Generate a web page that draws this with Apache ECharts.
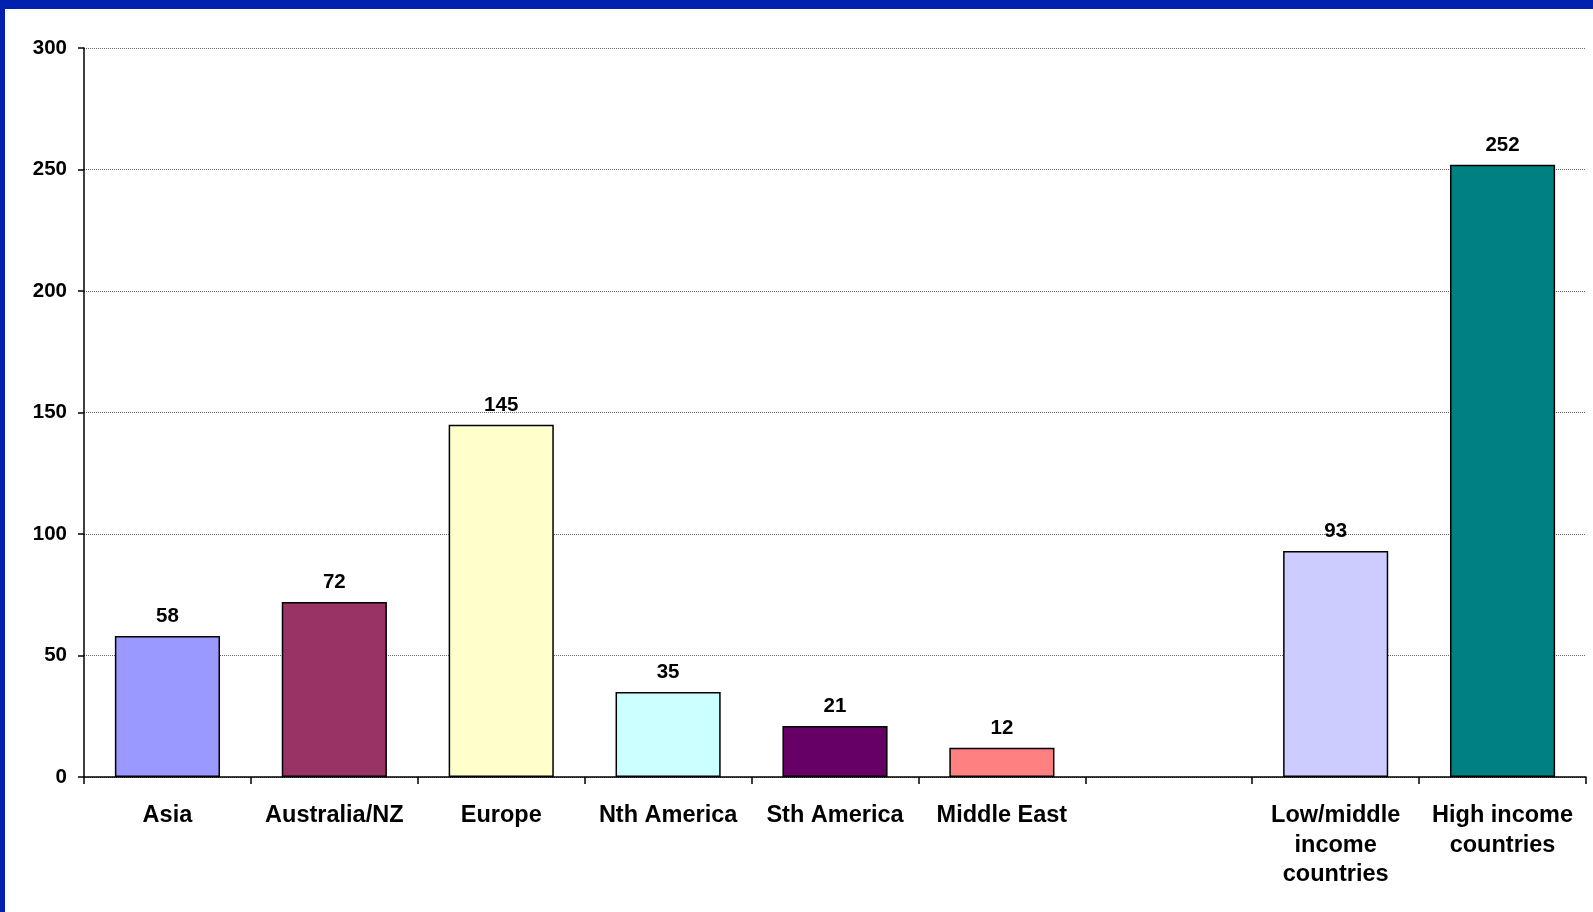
<!DOCTYPE html>
<html>
<head>
<meta charset="utf-8">
<script src="https://cdn.jsdelivr.net/npm/echarts@6/dist/echarts.min.js"></script>
<style>
html,body{margin:0;padding:0;background:#fff;}
#c{width:1593px;height:912px;}
</style>
</head>
<body>
<div id="c"></div>
<script>
const categories = ['Asia', 'Australia/NZ', 'Europe', 'Nth America', 'Sth America', 'Middle East', '', 'Low/middle\nincome\ncountries', 'High income\ncountries'];
const values = [58, 72, 145, 35, 21, 12, null, 93, 252];
const barColors = ['#9999FF', '#993366', '#FFFFCC', '#CCFFFF', '#660066', '#FF8080', '#FFFFFF', '#CCCCFF', '#008080'];
const yTicks = [0, 50, 100, 150, 200, 250, 300];

const chart = echarts.init(document.getElementById('c'), null, {renderer: 'canvas'});
const font = '"Liberation Sans", Arial, sans-serif';
chart.setOption({
  animation: false,
  backgroundColor: '#fff',
  graphic: [
    {type: 'rect', shape: {x: 0, y: 0, width: 1593, height: 9}, style: {fill: '#0020B0'}, z: 100},
    {type: 'rect', shape: {x: 0, y: 0, width: 5, height: 912}, style: {fill: '#0020B0'}, z: 100}
  ],
  grid: {left: 84, right: 7, top: 48, bottom: 135, containLabel: false},
  xAxis: {
    type: 'category',
    data: categories,
    axisLine: {lineStyle: {color: '#000', width: 1.5}},
    axisTick: {show: true, length: 7, lineStyle: {color: '#000', width: 1.5}},
    axisLabel: {color: '#000', fontFamily: font, fontWeight: 'bold', fontSize: 23.5, lineHeight: 29.5, margin: 24, interval: 0}
  },
  yAxis: {
    type: 'value',
    min: yTicks[0], max: yTicks[yTicks.length - 1], interval: 50,
    axisLine: {show: true, lineStyle: {color: '#000', width: 1.5}},
    axisTick: {show: true, length: 6, lineStyle: {color: '#000', width: 1.5}},
    axisLabel: {color: '#000', fontFamily: font, fontWeight: 'bold', fontSize: 20.5, margin: 17},
    splitLine: {show: true, lineStyle: {color: '#666', width: 1, type: [1, 1]}}
  },
  series: [{
    type: 'bar',
    data: values.map((v, i) => ({value: v, itemStyle: {color: barColors[i]}})),
    barCategoryGap: '37%',
    itemStyle: {borderColor: '#000', borderWidth: 1.5},
    label: {show: true, position: 'top', distance: 9, color: '#000', fontFamily: font, fontWeight: 'bold', fontSize: 20.5}
  }]
});
</script>
</body>
</html>
